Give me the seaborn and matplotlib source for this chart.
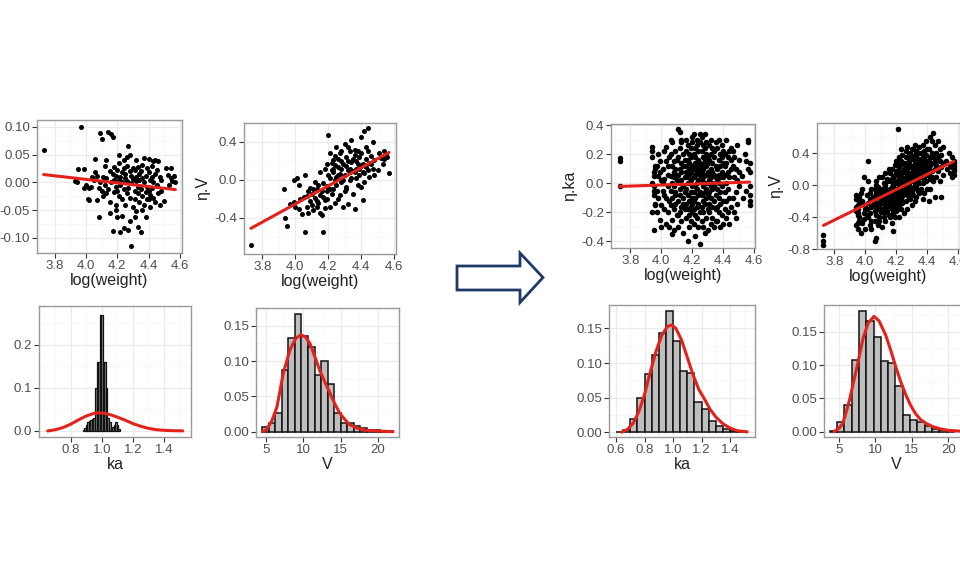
import numpy as np
import matplotlib
matplotlib.use('Agg')
import matplotlib.pyplot as plt
import seaborn as sns
from matplotlib.patches import Polygon

# ---------------- LEFT (before) data: individuals ----------------
weight_L = [3.73, 3.93, 3.94, 3.95, 3.97, 3.99, 3.99, 4.00, 4.01, 4.02, 4.02, 4.03, 4.04, 4.06, 4.06,
            4.07, 4.07, 4.08, 4.08, 4.09, 4.09, 4.10, 4.10, 4.11, 4.11, 4.12, 4.12, 4.13, 4.13, 4.14,
            4.14, 4.15, 4.15, 4.16, 4.16, 4.17, 4.17, 4.17, 4.18, 4.18, 4.18, 4.19, 4.19, 4.19, 4.20,
            4.20, 4.20, 4.21, 4.21, 4.21, 4.22, 4.22, 4.22, 4.23, 4.23, 4.23, 4.24, 4.24, 4.24, 4.25,
            4.25, 4.25, 4.26, 4.26, 4.26, 4.27, 4.27, 4.27, 4.28, 4.28, 4.28, 4.29, 4.29, 4.29, 4.30,
            4.30, 4.30, 4.31, 4.31, 4.31, 4.32, 4.32, 4.32, 4.33, 4.33, 4.33, 4.34, 4.34, 4.34, 4.35,
            4.35, 4.35, 4.36, 4.36, 4.36, 4.37, 4.37, 4.37, 4.38, 4.38, 4.38, 4.39, 4.39, 4.39, 4.40,
            4.40, 4.40, 4.41, 4.41, 4.41, 4.42, 4.42, 4.42, 4.43, 4.43, 4.43, 4.44, 4.44, 4.45, 4.45,
            4.46, 4.46, 4.47, 4.47, 4.48, 4.48, 4.50, 4.51, 4.52, 4.53, 4.54, 4.54, 4.55, 4.56, 4.57,
            4.05, 4.13, 4.21, 4.24, 4.26, 4.32, 4.28, 4.15, 4.19, 4.23, 4.31, 4.36, 4.40, 4.33, 4.44]
eta_ka_L = [0.058, 0.002, 0.000, 0.024, 0.100, 0.024, -0.010, -0.004, -0.030, -0.032, -0.010, -0.008, 0.010, 0.042, 0.018,
            -0.032, 0.012, -0.063, -0.010, 0.088, 0.000, 0.078, -0.015, 0.010, -0.025, -0.005, 0.030, -0.020, 0.008, 0.090,
            -0.012, 0.020, -0.035, 0.086, 0.000, 0.082, -0.087, 0.015, -0.018, 0.028, 0.005, -0.040, 0.012, -0.008, 0.022,
            -0.062, -0.015, 0.004, 0.035, -0.025, -0.090, 0.010, -0.005, 0.018, -0.030, 0.000, -0.082, 0.026, -0.012, 0.008,
            -0.040, 0.015, -0.020, 0.030, 0.002, 0.066, -0.085, -0.010, -0.070, 0.020, -0.028, -0.115, 0.012, -0.002, 0.025,
            -0.045, 0.006, -0.015, 0.022, -0.030, 0.010, -0.052, 0.002, 0.028, -0.020, -0.008, 0.015, -0.035, 0.005, -0.090,
            0.020, -0.012, 0.008, -0.025, 0.032, 0.044, -0.040, 0.000, -0.063, 0.012, -0.018, 0.025, -0.008, -0.030, 0.042,
            -0.015, 0.018, -0.022, 0.005, -0.045, 0.030, -0.010, 0.010, 0.038, -0.028, 0.000, 0.015, -0.035, 0.022, -0.005,
            0.038, -0.020, 0.010, -0.040, 0.005, -0.015, -0.033, 0.026, 0.014, -0.005, 0.025, 0.008, 0.003, 0.012, 0.000,
            0.005, 0.040, 0.050, 0.040, 0.045, 0.040, 0.050, -0.055, -0.050, -0.060, -0.062, -0.050, -0.030, -0.080, 0.040]
eta_V_L = [-0.69, -0.10, -0.40, -0.48, -0.25, 0.00, -0.23, -0.28, 0.02, -0.31, -0.05, -0.20, -0.36, -0.55, 0.05,
           -0.28, -0.17, -0.35, -0.12, -0.22, -0.08, -0.26, -0.15, -0.10, -0.32, -0.19, -0.02, -0.10, -0.28, -0.24,
           -0.05, -0.16, 0.08, -0.37, -0.12, -0.55, -0.03, -0.18, -0.21, 0.12, -0.30, 0.17, -0.12, -0.06, 0.47,
           -0.08, 0.05, -0.28, 0.28, 0.02, 0.10, -0.15, 0.18, 0.21, -0.10, 0.08, -0.24, 0.00, 0.25, 0.35,
           0.03, -0.05, 0.14, -0.20, 0.22, -0.16, 0.28, 0.06, -0.02, 0.30, 0.12, 0.17, -0.28, 0.00, 0.38,
           0.05, -0.12, 0.24, -0.07, 0.15, 0.10, 0.20, -0.25, 0.31, 0.00, 0.12, 0.42, 0.19, 0.02, 0.09,
           -0.15, 0.22, -0.31, 0.26, 0.08, 0.12, 0.02, 0.20, 0.17, -0.05, 0.30, 0.05, 0.24, 0.12, -0.07,
           0.15, 0.28, -0.21, 0.17, 0.08, 0.07, 0.52, -0.02, 0.35, 0.14, 0.22, 0.55, 0.10, 0.03, 0.18,
           0.17, 0.25, 0.40, 0.12, 0.21, 0.05, 0.10, 0.28, 0.23, 0.17, 0.30, 0.22, 0.26, 0.24, 0.07,
           -0.18, -0.22, -0.10, 0.16, 0.05, 0.35, 0.20, -0.35, -0.20, 0.12, -0.10, 0.32, 0.45, 0.08, 0.30]

# ---------------- RIGHT (after) data: individuals ----------------
weight_R = [3.73, 3.73, 3.73,
            3.94, 3.94, 3.95, 3.95, 3.95, 3.96, 3.96, 3.94, 3.95, 3.96, 3.94, 3.95, 3.96, 3.95, 3.94,
            3.97, 3.98, 3.98, 3.99, 3.99, 4.00, 3.97, 3.98, 4.00, 3.99, 3.97, 4.00,
            4.01, 4.01, 4.02, 4.02, 4.02, 4.03, 4.03, 4.03, 4.04, 4.04, 4.04, 4.05, 4.05, 4.01, 4.02, 4.03, 4.04, 4.05,
            4.06, 4.06, 4.06, 4.06, 4.07, 4.07, 4.07, 4.07, 4.07, 4.08, 4.08, 4.08, 4.08, 4.08, 4.09, 4.09, 4.09, 4.09,
            4.10, 4.10, 4.10, 4.06, 4.07, 4.08, 4.09,
            4.11, 4.11, 4.11, 4.11, 4.11, 4.12, 4.12, 4.12, 4.12, 4.12, 4.12, 4.13, 4.13, 4.13, 4.13, 4.13, 4.13,
            4.14, 4.14, 4.14, 4.14, 4.14, 4.15, 4.15, 4.15, 4.15, 4.11, 4.12, 4.13, 4.14,
            4.16, 4.16, 4.16, 4.16, 4.16, 4.16, 4.16, 4.17, 4.17, 4.17, 4.17, 4.17, 4.17, 4.17,
            4.18, 4.18, 4.18, 4.18, 4.18, 4.18, 4.18, 4.19, 4.19, 4.19, 4.19, 4.19, 4.19, 4.19,
            4.20, 4.20, 4.20, 4.20, 4.20, 4.20, 4.20,
            4.21, 4.21, 4.21, 4.21, 4.21, 4.21, 4.21, 4.21, 4.22, 4.22, 4.22, 4.22, 4.22, 4.22, 4.22, 4.22,
            4.23, 4.23, 4.23, 4.23, 4.23, 4.23, 4.23, 4.23, 4.24, 4.24, 4.24, 4.24, 4.24, 4.24, 4.24,
            4.25, 4.25, 4.25, 4.25, 4.25, 4.25, 4.25,
            4.26, 4.26, 4.26, 4.26, 4.26, 4.26, 4.26, 4.26, 4.27, 4.27, 4.27, 4.27, 4.27, 4.27, 4.27, 4.27,
            4.28, 4.28, 4.28, 4.28, 4.28, 4.28, 4.28, 4.28, 4.29, 4.29, 4.29, 4.29, 4.29, 4.29, 4.29,
            4.30, 4.30, 4.30, 4.30, 4.30, 4.30, 4.30,
            4.31, 4.31, 4.31, 4.31, 4.31, 4.31, 4.31, 4.32, 4.32, 4.32, 4.32, 4.32, 4.32, 4.32,
            4.33, 4.33, 4.33, 4.33, 4.33, 4.33, 4.33, 4.34, 4.34, 4.34, 4.34, 4.34, 4.34,
            4.35, 4.35, 4.35, 4.35, 4.35, 4.35,
            4.36, 4.36, 4.36, 4.36, 4.36, 4.36, 4.37, 4.37, 4.37, 4.37, 4.37, 4.37,
            4.38, 4.38, 4.38, 4.38, 4.38, 4.38, 4.39, 4.39, 4.39, 4.39, 4.39, 4.40, 4.40, 4.40, 4.40, 4.40,
            4.41, 4.41, 4.41, 4.41, 4.41, 4.42, 4.42, 4.42, 4.42, 4.42, 4.43, 4.43, 4.43, 4.43,
            4.44, 4.44, 4.44, 4.44, 4.45, 4.45, 4.45, 4.45,
            4.46, 4.46, 4.46, 4.47, 4.47, 4.47, 4.48, 4.48, 4.48, 4.49, 4.49, 4.49, 4.50, 4.50, 4.50,
            4.52, 4.53, 4.54, 4.55, 4.55, 4.56, 4.56, 4.56, 4.57, 4.57, 4.57, 4.57, 4.57, 4.57]
eta_ka_R = [0.17, 0.15, -0.02,
            0.25, 0.22, 0.08, 0.05, -0.02, -0.14, -0.15, -0.20, -0.32, 0.10, 0.00, -0.08, 0.12, -0.05, 0.18,
            -0.20, 0.05, -0.10, 0.15, -0.25, 0.02, -0.05, 0.20, -0.15, 0.08, 0.12, -0.30,
            0.10, -0.05, 0.22, -0.18, 0.03, -0.10, 0.15, -0.28, 0.06, -0.02, -0.20, 0.18, -0.12, 0.00, -0.08, 0.25, 0.12, -0.30,
            0.05, -0.15, 0.20, -0.05, 0.12, -0.25, 0.00, 0.28, -0.10, 0.08, -0.18, 0.15, -0.02, -0.32, 0.10, -0.08, 0.22, -0.14,
            0.02, -0.22, 0.16, 0.30, -0.35, 0.04, -0.06,
            0.37, -0.12, 0.06, 0.18, -0.30, 0.35, -0.04, 0.10, -0.20, 0.24, -0.08, 0.14, -0.16, 0.02, 0.28, -0.26, 0.08,
            -0.10, 0.20, -0.02, -0.34, 0.12, 0.04, -0.18, 0.16, -0.06, -0.22, 0.00, 0.30, -0.14,
            0.08, -0.14, 0.22, -0.04, 0.30, -0.24, 0.12, -0.08, 0.16, -0.40, 0.04, -0.18, 0.26, 0.00,
            0.10, -0.22, 0.06, -0.12, 0.20, -0.30, 0.14, -0.06, 0.24, -0.16, 0.02, 0.18, -0.26, 0.08,
            -0.10, 0.28, -0.02, -0.20, 0.12, 0.32, -0.14,
            0.04, -0.18, 0.20, -0.06, 0.34, -0.12, 0.10, -0.28, 0.14, -0.02, 0.24, -0.22, 0.06, -0.36, 0.18, -0.10,
            0.00, 0.26, -0.16, 0.12, -0.04, 0.30, -0.24, 0.08, -0.08, 0.16, -0.30, 0.02, 0.22, -0.14, 0.10,
            0.28, -0.20, 0.06, -0.42, 0.14, -0.06, 0.34,
            0.12, -0.08, 0.22, -0.26, 0.02, 0.32, -0.16, 0.08, -0.12, 0.18, -0.02, -0.30, 0.10, 0.26, -0.20, 0.04,
            0.14, -0.06, 0.24, -0.34, 0.00, 0.16, -0.14, 0.34, -0.10, 0.20, -0.24, 0.06, 0.12, -0.04, 0.28,
            -0.18, 0.08, -0.32, 0.18, 0.00, 0.14, -0.08,
            0.06, -0.20, 0.16, -0.06, 0.26, -0.14, 0.02, 0.10, -0.28, 0.20, -0.02, 0.30, -0.10, 0.04,
            -0.16, 0.14, -0.04, 0.24, -0.24, 0.08, 0.00, 0.18, -0.12, 0.06, -0.30, 0.22, -0.02,
            0.12, -0.18, 0.04, 0.28, -0.08, -0.26,
            0.10, -0.16, 0.24, -0.04, 0.02, -0.26, 0.16, -0.10, 0.06, 0.30, -0.20, 0.00,
            -0.06, 0.20, -0.30, 0.12, 0.04, -0.14, 0.08, -0.22, 0.18, -0.02, 0.26, -0.12, 0.14, -0.28, 0.04, 0.22,
            0.06, -0.18, 0.20, -0.06, 0.12, -0.24, 0.14, 0.00, 0.30, -0.12, 0.08, -0.20, 0.18, -0.04,
            0.22, -0.10, 0.04, -0.28, 0.10, -0.16, 0.16, 0.24,
            0.12, -0.10, 0.22, -0.20, 0.04, 0.18, -0.06, 0.10, -0.24, 0.02, 0.26, -0.14, 0.08, -0.02, 0.16,
            0.05, -0.10, 0.20, 0.15, -0.05, 0.30, 0.28, 0.10, 0.08, -0.02, -0.08, -0.12, 0.14, -0.15]
eta_V_R = [-0.62, -0.70, -0.75,
           -0.12, -0.18, -0.25, -0.30, -0.35, -0.40, -0.45, -0.50, -0.55, -0.20, -0.28, -0.38, -0.15, -0.48, -0.33,
           -0.60, -0.20, -0.05, -0.35, -0.42, -0.25, -0.10, -0.48, -0.30, 0.10, -0.22, -0.55,
           -0.30, -0.12, -0.40, -0.22, 0.05, -0.50, -0.18, -0.35, -0.05, -0.28, -0.45, -0.15, -0.25, -0.38, 0.30, -0.10, -0.55, -0.20,
           -0.20, -0.05, -0.32, -0.45, -0.10, -0.28, 0.05, -0.38, -0.66, -0.15, -0.22, -0.02, -0.50, -0.30, -0.08, -0.25, 0.10, -0.40,
           -0.18, -0.12, -0.34, -0.70, 0.00, -0.28, -0.45,
           0.10, -0.15, -0.30, -0.05, -0.22, -0.40, 0.02, -0.12, -0.35, -0.20, -0.08, 0.15, -0.28, -0.45, -0.02, -0.18, -0.10,
           0.05, -0.32, -0.25, -0.12, 0.08, -0.38, -0.06, -0.20, 0.20, -0.52, -0.15, 0.00, -0.28,
           -0.10, 0.05, -0.25, -0.40, 0.15, -0.18, -0.05, -0.30, 0.08, -0.15, -0.48, -0.02, 0.20, -0.22,
           -0.12, 0.00, -0.35, 0.10, -0.20, -0.08, -0.58, 0.25, -0.28, 0.02, -0.14, 0.12, -0.40, -0.05,
           0.18, -0.22, 0.05, -0.10, -0.32, 0.30, -0.16,
           0.05, -0.15, 0.25, -0.05, 0.70, -0.30, 0.12, -0.20, 0.00, 0.35, -0.10, 0.18, -0.25, 0.08, -0.40, 0.22,
           -0.02, 0.15, -0.18, 0.30, 0.04, -0.12, 0.45, -0.30, 0.10, -0.08, 0.26, -0.22, 0.02, 0.38, -0.14,
           0.16, -0.05, 0.28, -0.35, 0.08, 0.20, -0.10,
           0.18, -0.05, 0.35, 0.08, -0.20, 0.25, 0.00, 0.42, 0.12, -0.12, 0.28, 0.05, -0.30, 0.20, 0.48, -0.02,
           0.30, 0.10, -0.15, 0.38, 0.02, 0.22, -0.08, 0.15, 0.40, 0.06, -0.18, 0.25, -0.02, 0.32, 0.12,
           0.45, 0.08, -0.10, 0.22, 0.35, -0.25, 0.15,
           0.20, 0.05, 0.32, -0.12, 0.45, 0.10, -0.05, 0.28, 0.00, 0.38, 0.15, -0.20, 0.50, 0.08,
           0.22, 0.35, -0.02, 0.12, 0.42, -0.15, 0.28, 0.05, 0.30, 0.18, -0.08, 0.40, 0.22,
           0.15, 0.48, 0.02, 0.32, -0.10, 0.25,
           0.25, 0.10, 0.40, -0.05, 0.30, 0.18, 0.35, 0.02, 0.22, 0.50, 0.12, -0.18,
           0.28, 0.42, 0.08, 0.20, -0.10, 0.32, 0.15, 0.38, 0.05, 0.25, 0.55, 0.12, 0.30, -0.05, 0.45, 0.20,
           0.30, 0.15, 0.45, -0.20, 0.22, 0.60, 0.08, 0.35, 0.25, -0.05, 0.40, 0.18, 0.55, 0.10,
           0.65, 0.28, 0.05, 0.35, 0.50, 0.20, -0.15, 0.30,
           0.25, 0.40, 0.10, 0.35, 0.55, 0.18, 0.30, 0.05, 0.45, 0.22, 0.38, -0.15, 0.28, 0.12, 0.48,
           0.30, 0.20, 0.40, 0.25, 0.15, 0.35, 0.22, 0.10, 0.28, 0.18, 0.24, 0.30, 0.20, 0.12]

# fitted regression lines (endpoints)
fit_x = [3.73, 4.57]
fit_ka_L = [0.014, -0.013]
fit_V_L = [-0.51, 0.29]
fit_ka_R = [-0.022, 0.008]
fit_V_R = [-0.505, 0.295]

# ---------------- histograms (bin centres, proportions) ----------------
ka_L_centers = [0.88, 0.89, 0.90, 0.91, 0.92, 0.93, 0.94, 0.95, 0.96, 0.97, 0.98, 0.99, 1.00,
                1.01, 1.02, 1.03, 1.04, 1.05, 1.06, 1.07, 1.08, 1.09, 1.10, 1.11]
ka_L_heights = [0.003, 0.008, 0.015, 0.020, 0.022, 0.025, 0.028, 0.030, 0.100, 0.160, 0.160, 0.270, 0.270,
                0.160, 0.160, 0.100, 0.030, 0.020, 0.005, 0.010, 0.015, 0.020, 0.015, 0.005]
ka_L_binwidth = 0.01
ka_L_curve_x = [0.65, 0.70, 0.75, 0.80, 0.85, 0.90, 0.95, 0.98, 1.02, 1.06, 1.10, 1.15, 1.20, 1.25, 1.30, 1.35, 1.40, 1.45, 1.52]
ka_L_curve_y = [0.000, 0.003, 0.008, 0.016, 0.026, 0.035, 0.041, 0.042, 0.041, 0.037, 0.032, 0.025, 0.017, 0.011, 0.006, 0.003, 0.0015, 0.0007, 0.0002]

V_L_centers = [4.99, 5.86, 6.73, 7.60, 8.47, 9.34, 10.21, 11.08, 11.95, 12.82, 13.69, 14.56, 15.43, 16.30,
               17.17, 18.04, 18.91, 19.78, 20.65, 21.52]
V_L_heights = [0.007, 0.013, 0.027, 0.087, 0.133, 0.167, 0.135, 0.120, 0.080, 0.100, 0.067, 0.027, 0.013, 0.013,
               0.008, 0.005, 0.003, 0.002, 0.001, 0.001]
V_L_binwidth = 0.87
V_L_curve_x = [4.6, 5.1, 5.8, 6.5, 7.35, 8.24, 9.0, 9.7, 10.3, 10.9, 11.6, 12.2, 13.0, 13.6, 14.3, 14.9, 15.5, 16.2, 17.2, 18.4, 20.0, 22.0]
V_L_curve_y = [0.000, 0.003, 0.015, 0.035, 0.083, 0.116, 0.132, 0.137, 0.134, 0.125, 0.105, 0.087, 0.068, 0.054, 0.038, 0.026, 0.018, 0.010, 0.005, 0.002, 0.001, 0.000]

ka_R_centers = [0.625, 0.675, 0.725, 0.775, 0.825, 0.875, 0.925, 0.975, 1.025, 1.075, 1.125, 1.175, 1.225,
                1.275, 1.325, 1.375, 1.425, 1.475]
ka_R_heights = [0.000, 0.003, 0.019, 0.050, 0.084, 0.112, 0.144, 0.175, 0.132, 0.089, 0.085, 0.044, 0.033,
                0.016, 0.009, 0.005, 0.002, 0.001]
ka_R_binwidth = 0.05
ka_R_curve_x = [0.64, 0.68, 0.72, 0.76, 0.80, 0.84, 0.88, 0.92, 0.96, 0.99, 1.02, 1.06, 1.10, 1.14, 1.18, 1.22, 1.26, 1.30, 1.35, 1.40, 1.45, 1.52]
ka_R_curve_y = [0.000, 0.004, 0.013, 0.030, 0.055, 0.087, 0.117, 0.140, 0.153, 0.155, 0.150, 0.133, 0.108, 0.083, 0.062, 0.048, 0.033, 0.022, 0.012, 0.006, 0.002, 0.0005]

V_R_centers = [4.25, 5.25, 6.25, 7.25, 8.25, 9.25, 10.25, 11.25, 12.25, 13.25, 14.25, 15.25, 16.25, 17.25,
               18.25, 19.25, 20.25]
V_R_heights = [0.001, 0.014, 0.040, 0.107, 0.181, 0.166, 0.142, 0.106, 0.103, 0.068, 0.025, 0.018, 0.014, 0.009,
               0.004, 0.002, 0.001]
V_R_binwidth = 1.0
V_R_curve_x = [4.3, 5.0, 5.5, 6.0, 6.5, 7.0, 7.6, 8.3, 9.0, 9.8, 10.5, 11.4, 12.1, 12.8, 13.4, 14.1, 14.8, 15.5, 16.2, 17.0, 18.0, 19.0, 20.0, 22.0]
V_R_curve_y = [0.000, 0.005, 0.012, 0.030, 0.050, 0.075, 0.104, 0.140, 0.163, 0.173, 0.166, 0.145, 0.122, 0.097, 0.077, 0.057, 0.040, 0.027, 0.018, 0.012, 0.007, 0.004, 0.002, 0.0005]

# ---------------- styling ----------------
sns.set_theme(style='white')
plt.rcParams['font.family'] = ['Liberation Sans', 'DejaVu Sans']

RED = '#E3221C'
GRID_MAJOR = '#EBEBEB'
GRID_MINOR = '#F4F4F4'
TICK_COL = '#4D4D4D'
TITLE_COL = '#222222'

fig = plt.figure(figsize=(9.6, 5.76), dpi=100)


def add_ax(x0, y0, x1, y1):
    return fig.add_axes([x0 / 960, 1 - y1 / 576, (x1 - x0) / 960, (y1 - y0) / 576])


def minors(major, lo, hi):
    step = major[1] - major[0]
    vals = [major[0] - step / 2 + i * step for i in range(len(major) + 2)]
    return [v for v in vals if lo < v < hi]


def style(ax, xlim, ylim, xt, xl, yt, yl, xlabel, ylabel=None):
    ax.set_xlim(xlim)
    ax.set_ylim(ylim)
    ax.set_xticks(xt)
    ax.set_xticklabels(xl)
    ax.set_yticks(yt)
    ax.set_yticklabels(yl)
    ax.set_xticks(minors(xt, *xlim), minor=True)
    ax.set_yticks(minors(yt, *ylim), minor=True)
    ax.grid(which='major', color=GRID_MAJOR, linewidth=0.9)
    ax.grid(which='minor', color=GRID_MINOR, linewidth=0.5)
    ax.set_axisbelow(True)
    ax.tick_params(which='major', direction='out', length=3.5, width=0.8, color='#333333',
                   labelcolor=TICK_COL, labelsize=9.5, pad=1.5, bottom=True, left=True)
    ax.tick_params(which='minor', length=0)
    for s in ax.spines.values():
        s.set_color('#9A9A9A')
        s.set_linewidth(1.0)
        s.set_visible(True)
    ax.set_xlabel(xlabel, fontsize=11.5, color=TITLE_COL, labelpad=1)
    if ylabel:
        ax.set_ylabel(ylabel, fontsize=11.5, color=TITLE_COL, labelpad=3)
    else:
        ax.set_ylabel('')


def edges(centers, w):
    return [c - w / 2 for c in centers] + [centers[-1] + w / 2]


wx_t = [3.8, 4.0, 4.2, 4.4, 4.6]
wx_l = ['3.8', '4.0', '4.2', '4.4', '4.6']

# P1: eta.ka vs log(weight) (before)
ax1 = add_ax(37, 120, 182, 253)
sns.scatterplot(x=weight_L, y=eta_ka_L, ax=ax1, color='black', s=13, linewidth=0)
sns.lineplot(x=fit_x, y=fit_ka_L, ax=ax1, color=RED, linewidth=2.2)
style(ax1, (3.688, 4.612), (-0.127, 0.112), wx_t, wx_l,
      [-0.10, -0.05, 0.00, 0.05, 0.10], ['-0.10', '-0.05', '0.00', '0.05', '0.10'],
      'log(weight)', 'η.ka')

# P2: eta.V vs log(weight) (before)
ax2 = add_ax(244, 123, 396, 254)
sns.scatterplot(x=weight_L, y=eta_V_L, ax=ax2, color='black', s=13, linewidth=0)
sns.lineplot(x=fit_x, y=fit_V_L, ax=ax2, color=RED, linewidth=2.2)
style(ax2, (3.688, 4.612), (-0.78, 0.60), wx_t, wx_l,
      [-0.4, 0.0, 0.4], ['-0.4', '0.0', '0.4'], 'log(weight)', 'η.V')

# P3: ka histogram (before)
ax3 = add_ax(39, 306, 191, 437)
sns.histplot(x=ka_L_centers, weights=ka_L_heights, bins=edges(ka_L_centers, ka_L_binwidth), ax=ax3,
             color='#8A8A8A', edgecolor='#111111', linewidth=0.9, alpha=1)
sns.lineplot(x=ka_L_curve_x, y=ka_L_curve_y, ax=ax3, color=RED, linewidth=2.2)
style(ax3, (0.594, 1.574), (-0.014, 0.29), [0.8, 1.0, 1.2, 1.4], ['0.8', '1.0', '1.2', '1.4'],
      [0.0, 0.1, 0.2], ['0.0', '0.1', '0.2'], 'ka')

# P4: V histogram (before)
ax4 = add_ax(256, 308, 399, 437)
sns.histplot(x=V_L_centers, weights=V_L_heights, bins=edges(V_L_centers, V_L_binwidth), ax=ax4,
             color='#BEBEBE', edgecolor='#111111', linewidth=1.1, alpha=1)
sns.lineplot(x=V_L_curve_x, y=V_L_curve_y, ax=ax4, color=RED, linewidth=2.2)
style(ax4, (3.7, 22.8), (-0.0075, 0.175), [5, 10, 15, 20], ['5', '10', '15', '20'],
      [0.0, 0.05, 0.10, 0.15], ['0.00', '0.05', '0.10', '0.15'], 'V')

# P5: eta.ka vs log(weight) (after)
ax5 = add_ax(611, 124, 755, 248)
sns.scatterplot(x=weight_R, y=eta_ka_R, ax=ax5, color='black', s=16, linewidth=0)
sns.lineplot(x=fit_x, y=fit_ka_R, ax=ax5, color=RED, linewidth=2.2)
style(ax5, (3.675, 4.605), (-0.445, 0.407), wx_t, wx_l,
      [-0.4, -0.2, 0.0, 0.2, 0.4], ['-0.4', '-0.2', '0.0', '0.2', '0.4'], 'log(weight)', 'η.ka')

# P6: eta.V vs log(weight) (after)
ax6 = add_ax(817, 123, 960, 249)
sns.scatterplot(x=weight_R, y=eta_V_R, ax=ax6, color='black', s=16, linewidth=0)
sns.lineplot(x=fit_x, y=fit_V_R, ax=ax6, color=RED, linewidth=2.2)
style(ax6, (3.688, 4.612), (-0.80, 0.775), wx_t, wx_l,
      [-0.8, -0.4, 0.0, 0.4], ['-0.8', '-0.4', '0.0', '0.4'], 'log(weight)', 'η.V')

# P7: ka histogram (after)
ax7 = add_ax(609, 305, 755, 437)
sns.histplot(x=ka_R_centers, weights=ka_R_heights, bins=edges(ka_R_centers, ka_R_binwidth), ax=ax7,
             color='#BEBEBE', edgecolor='#111111', linewidth=1.1, alpha=1)
sns.lineplot(x=ka_R_curve_x, y=ka_R_curve_y, ax=ax7, color=RED, linewidth=2.2)
style(ax7, (0.55, 1.575), (-0.007, 0.184), [0.6, 0.8, 1.0, 1.2, 1.4], ['0.6', '0.8', '1.0', '1.2', '1.4'],
      [0.0, 0.05, 0.10, 0.15], ['0.00', '0.05', '0.10', '0.15'], 'ka')

# P8: V histogram (after)
ax8 = add_ax(824, 305, 968, 437)
sns.histplot(x=V_R_centers, weights=V_R_heights, bins=edges(V_R_centers, V_R_binwidth), ax=ax8,
             color='#BEBEBE', edgecolor='#111111', linewidth=1.1, alpha=1)
sns.lineplot(x=V_R_curve_x, y=V_R_curve_y, ax=ax8, color=RED, linewidth=2.2)
style(ax8, (2.94, 22.7), (-0.008, 0.19), [5, 10, 15, 20], ['5', '10', '15', '20'],
      [0.0, 0.05, 0.10, 0.15], ['0.00', '0.05', '0.10', '0.15'], 'V')

for ax in fig.axes:
    leg = ax.get_legend()
    if leg:
        leg.remove()

# block arrow between the two groups
arrow_px = [(457, 266), (520, 266), (520, 253), (543, 277.5), (520, 302.5), (520, 290), (457, 290)]
arrow = Polygon([(x / 960, 1 - y / 576) for x, y in arrow_px], closed=True, transform=fig.transFigure,
                facecolor='white', edgecolor='#1F3A68', linewidth=2.0, joinstyle='miter')
fig.patches.append(arrow)

fig.savefig('out.png', dpi=100)
